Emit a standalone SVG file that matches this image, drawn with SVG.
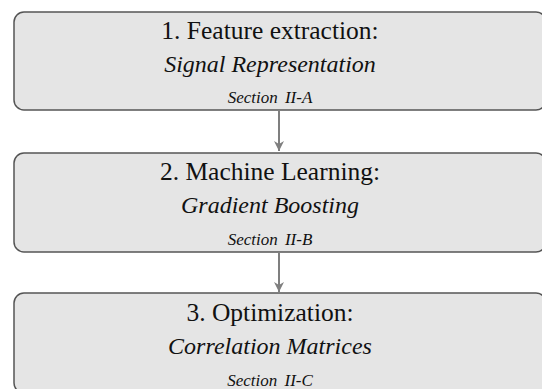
<svg xmlns="http://www.w3.org/2000/svg" width="542" height="389" viewBox="0 0 542 389">
  <defs>
    <marker id="arrow" viewBox="0 0 10 10" refX="10" refY="5" markerWidth="5" markerHeight="5" markerUnits="strokeWidth" orient="auto">
      <path d="M0,0 L10,5 L0,10 L3,5 Z" fill="#7f7f7f"/>
    </marker>
  </defs>
  <style>
    .box { fill: #e5e5e5; stroke: #555555; stroke-width: 1.5; }
    .title { font-family: "Liberation Serif", "Times New Roman", serif; font-size: 25.5px; fill: #111; text-anchor: middle; }
    .sub { font-family: "Liberation Serif", "Times New Roman", serif; font-size: 24px; font-style: italic; fill: #111; text-anchor: middle; }
    .sec { font-family: "Liberation Serif", "Times New Roman", serif; font-size: 17px; font-style: italic; fill: #111; text-anchor: middle; word-spacing: 3px; }
    .link { stroke: #7f7f7f; stroke-width: 2; fill: none; }
  </style>

  <g id="node-features">
    <rect class="box" x="14" y="12" width="532" height="98" rx="10" ry="10"/>
    <text class="title" x="270" y="39">1. Feature extraction:</text>
    <text class="sub" x="270" y="72">Signal Representation</text>
    <text class="sec" x="270" y="103">Section II-A</text>
  </g>

  <g id="node-learning">
    <rect class="box" x="14" y="153" width="532" height="99" rx="10" ry="10"/>
    <text class="title" x="270" y="180">2. Machine Learning:</text>
    <text class="sub" x="270" y="213">Gradient Boosting</text>
    <text class="sec" x="270" y="245">Section II-B</text>
  </g>

  <g id="node-optimization">
    <rect class="box" x="14" y="293" width="532" height="100" rx="10" ry="10"/>
    <text class="title" x="270" y="321">3. Optimization:</text>
    <text class="sub" x="270" y="354">Correlation Matrices</text>
    <text class="sec" x="270" y="386">Section II-C</text>
  </g>

  <g id="connectors">
    <line class="link" x1="279" y1="111" x2="279" y2="151" marker-end="url(#arrow)"/>
    <line class="link" x1="279" y1="253" x2="279" y2="292" marker-end="url(#arrow)"/>
  </g>
</svg>
